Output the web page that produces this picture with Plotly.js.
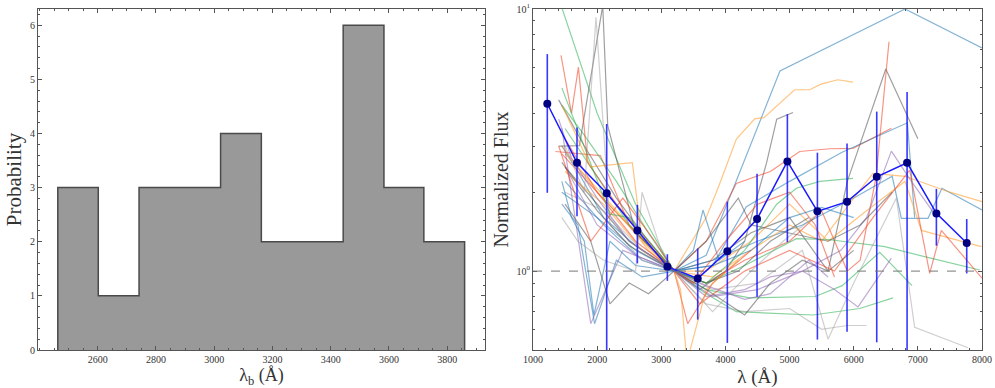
<!DOCTYPE html>
<html>
<head>
<meta charset="utf-8">
<script src="https://cdn.plot.ly/plotly-3.0.1.min.js"></script>
<style>html,body{margin:0;padding:0;background:#fff;}#chart{width:995px;height:388px;}</style>
</head>
<body>
<div id="chart"></div>
<script>
// ---------- Left panel: histogram of break wavelengths ----------
const binEdges = [2463, 2602, 2742, 2882, 3022, 3162, 3302, 3443, 3583, 3720, 3860];
const binCounts = [3, 1, 3, 3, 4, 2, 2, 6, 3, 2];
const histTicks = [2600, 2800, 3000, 3200, 3400, 3600, 3800];

// ---------- Right panel: individual normalized SEDs ----------
const w01 = [1450, 1700, 2100, 2600, 3200, 3700, 4150, 4850, 6800, 8000];
const f01 = [3.0, 2.4, 1.6, 1.25, 1.0, 1.15, 2.15, 5.8, 10.0, 7.1];
const w02 = [1500, 1900, 2400, 2800, 3200, 3700, 3909, 4171, 4456, 4600, 5079, 5313, 5500, 5750, 5989];
const f02 = [2.8, 2.2, 1.6, 1.2, 1.0, 1.6, 2.15, 3.19, 3.81, 3.85, 4.92, 4.92, 5.18, 5.37, 5.26];
const w03 = [1500, 2000, 2500, 3200, 3800, 4400, 5000, 5600, 5900, 6500, 7000];
const f03 = [2.5, 1.8, 1.3, 1.0, 1.1, 1.4, 1.6, 1.0, 2.2, 5.9, 3.2];
const w04 = [1500, 2000, 2600, 3200, 3700, 4300, 5000, 5500, 5900, 6100, 6350, 6550];
const f04 = [3.2, 2.0, 1.4, 1.0, 0.9, 1.1, 1.3, 1.7, 1.0, 1.1, 2.3, 7.5];
const w05 = [1400, 1800, 2300, 2800, 3200, 3600, 4000, 4300, 4640, 4800, 5054];
const f05 = [4.5, 3.0, 1.9, 1.3, 1.0, 0.85, 1.0, 1.3, 2.58, 3.8, 4.03];
const w06 = [1350, 2050, 2500, 3200, 3700, 4170, 4700, 5158, 5625, 5989, 6587];
const f06 = [2.86, 2.76, 1.5, 1.0, 1.3, 2.16, 2.4, 2.86, 2.93, 2.94, 3.51];
const w07 = [1450, 2000, 2600, 3200, 3800, 4326, 5000, 5819, 6837, 6950];
const f07 = [2.0, 1.6, 1.2, 1.0, 1.05, 1.76, 2.2, 2.84, 3.68, 1.6];
const w08 = [1500, 2100, 2700, 3200, 3800, 4500, 5200, 6000, 6600, 6743, 7158, 7376, 8000];
const f08 = [2.2, 1.5, 1.1, 1.0, 1.1, 1.3, 1.5, 1.9, 2.3, 1.59, 1.59, 2.07, 1.71];
const w09 = [1450, 2000, 2600, 3200, 3800, 4400, 5000, 5500, 6000, 6300, 6800, 7500, 8000];
const f09 = [3.0, 2.0, 1.4, 1.0, 0.95, 1.2, 1.5, 1.3, 1.9, 2.36, 2.3, 2.0, 1.84];
const w10 = [1500, 2100, 2700, 3200, 3700, 4400, 5000, 5600, 6200, 6800, 7055, 7990];
const f10 = [2.4, 1.8, 1.2, 1.0, 1.0, 1.3, 1.8, 1.3, 1.7, 2.2, 1.43, 1.24];
const w11 = [1450, 1800, 2300, 2800, 3200, 3700, 4170, 5366, 6093, 6613];
const f11 = [4.3, 3.3, 2.2, 1.4, 1.0, 0.82, 0.70, 0.68, 0.72, 0.79];
const w12 = [1400, 2000, 2600, 3200, 3700, 4378, 5400, 5821, 6405, 6909];
const f12 = [11.0, 4.0, 1.8, 1.0, 0.85, 0.79, 0.80, 0.88, 1.18, 0.88];
const w13 = [1500, 2000, 2500, 3200, 3700, 4300, 5106, 5600, 6483, 7200, 7964];
const f13 = [3.5, 2.3, 1.5, 1.0, 0.9, 1.05, 1.33, 1.32, 1.24, 1.12, 1.01];
const w14 = [1500, 2100, 2700, 3200, 3800, 4500, 5200, 5600, 6000, 6665, 6950, 7782];
const f14 = [2.0, 1.7, 1.2, 1.0, 0.85, 0.9, 1.2, 0.55, 0.9, 1.9, 0.61, 0.51];
const w15 = [1450, 2000, 2600, 3200, 3600, 4300, 5000, 5700, 6300, 6873, 7184, 7366, 8000];
const f15 = [2.8, 2.0, 1.3, 1.0, 0.75, 1.0, 1.2, 1.0, 1.6, 2.43, 0.98, 1.43, 0.94];
const w16 = [1450, 1900, 2400, 3200, 3800, 4500, 5200, 5800, 6200, 6587, 6900, 7300];
const f16 = [3.5, 0.63, 1.2, 1.0, 0.8, 0.85, 1.0, 1.2, 1.6, 2.87, 2.2, 1.6];
const w17 = [1500, 2000, 2600, 3200, 3700, 4300, 4700, 5200, 5700, 6067, 6587];
const f17 = [2.5, 1.5, 1.15, 1.0, 0.8, 0.85, 0.95, 1.0, 0.85, 0.73, 1.12];
const w18 = [1400, 1723, 2087, 2165, 2600, 3200, 3700, 4200, 4700, 5300];
const f18 = [3.0, 3.01, 10.3, 3.59, 1.4, 1.0, 0.9, 1.0, 1.3, 1.6];
const w19 = [1500, 1800, 1982, 2200, 2700, 3200, 3700, 4300, 5000, 5500, 5900, 6200];
const f19 = [3.0, 2.0, 9.3, 1.5, 1.1, 1.0, 0.75, 0.7, 0.72, 0.6, 0.62, 0.62];
const w20 = [1437, 1600, 1708, 1850, 2300, 2800, 3200, 3412, 3800, 4400];
const f20 = [6.65, 4.0, 6.0, 2.6, 1.8, 1.3, 1.0, 0.63, 0.9, 1.2];
const w21 = [1450, 1900, 2549, 2700, 3000, 3200, 3300, 3400, 3700, 4200];
const f21 = [4.3, 2.5, 2.59, 1.3, 1.1, 1.0, 0.85, 0.45, 0.85, 1.1];
const w22 = [1450, 1600, 1800, 1950, 2200, 2600, 3200, 3500, 3650, 3900, 4300];
const f22 = [2.2, 1.6, 1.3, 0.68, 1.3, 1.05, 1.0, 1.2, 1.71, 1.1, 1.3];
const w23 = [1500, 1900, 2200, 2500, 2800, 3200, 3700, 4300, 4700, 5200, 5600, 6000];
const f23 = [1.8, 1.3, 0.75, 0.9, 0.82, 1.0, 0.85, 0.68, 0.9, 1.1, 1.0, 1.2];
const w24 = [1450, 2000, 2500, 3200, 3700, 4200, 4400, 5000, 5600, 6100, 6600];
const f24 = [2.6, 1.7, 1.25, 1.0, 1.3, 1.9, 1.5, 1.4, 1.3, 1.5, 2.0];
const w25 = [1450, 1700, 2100, 2600, 2700, 3000, 3200, 3800, 4400, 4900, 5500];
const f25 = [1.6, 1.3, 1.1, 1.0, 2.0, 1.2, 1.0, 0.7, 1.0, 1.3, 1.7];
const w26 = [1450, 2000, 2200, 2500, 3200, 3700, 4300, 4800, 5106, 5470, 5989];
const f26 = [5.0, 2.2, 1.65, 1.6, 1.0, 0.9, 1.2, 1.8, 2.07, 2.2, 2.26];
const w27 = [1400, 1900, 2400, 2900, 3200, 3500, 4000, 4500, 5000, 5400, 5700];
const f27 = [3.0, 1.3, 1.9, 1.3, 1.0, 0.9, 1.3, 1.8, 2.0, 1.5, 0.95];
const w28 = [1400, 1600, 2000, 2500, 3200, 3700, 4300, 4700, 5300, 5600];
const f28 = [3.8, 2.7, 1.9, 1.3, 1.0, 0.88, 0.78, 0.82, 1.1, 0.95];
const w29 = [1450, 1700, 1960, 2300, 2700, 3200, 3800, 4400, 5000, 5500, 6000];
const f29 = [1.8, 1.5, 0.63, 1.1, 0.95, 1.0, 1.05, 1.2, 1.6, 1.75, 1.6];

const sedWaves = [w01,w02,w03,w04,w05,w06,w07,w08,w09,w10,w11,w12,w13,w14,w15,w16,w17,w18,w19,w20,w21,w22,w23,w24,w25,w26,w27,w28,w29];
const sedFluxes = [f01,f02,f03,f04,f05,f06,f07,f08,f09,f10,f11,f12,f13,f14,f15,f16,f17,f18,f19,f20,f21,f22,f23,f24,f25,f26,f27,f28,f29];
const sedColorNames = ['blue','orange','gray','red','gray','red','blue','blue','orange','orange','green','green','green','lightgray','red','purple','purple','gray','lightgray','red','orange','blue','gray','gray','lightgray','green','red','purple','blue'];

// ---------- Right panel: mean SED with scatter ----------
const meanWave = [1223, 1686, 2149, 2627, 3095, 3568, 4030, 4493, 4966, 5434, 5896, 6359, 6832, 7289, 7762];
const meanFlux = [4.35, 2.59, 1.98, 1.43, 1.04, 0.937, 1.19, 1.58, 2.62, 1.69, 1.84, 2.29, 2.59, 1.66, 1.28];
const meanHigh = [6.73, 3.53, 3.64, 1.79, 1.16, 1.22, 1.84, 2.35, 3.97, 2.83, 3.07, 4.06, 4.82, 2.06, 1.58];
const meanLow  = [1.99, 1.62, 0.30, 1.07, 0.918, 0.653, 0.532, 0.798, 1.29, 0.548, 0.587, 0.535, 0.30, 1.25, 0.98];
const refLevel = 1;

const palette = {
  blue: 'rgba(31,119,180,0.55)',
  orange: 'rgba(255,150,30,0.55)',
  green: 'rgba(40,175,80,0.55)',
  red: 'rgba(240,60,30,0.55)',
  purple: 'rgba(140,100,180,0.55)',
  gray: 'rgba(80,80,80,0.55)',
  lightgray: 'rgba(160,160,160,0.5)'
};

const serif = 'Liberation Serif';
const traces = [];

// histogram as a filled step outline
const hx = [binEdges[0]];
const hy = [0];
for (let i = 0; i < binCounts.length; i++) { hx.push(binEdges[i]); hy.push(binCounts[i]); }
hx.push(binEdges[binEdges.length - 1]); hy.push(binCounts[binCounts.length - 1]);
hx.push(binEdges[binEdges.length - 1]); hy.push(0);
traces.push({
  type: 'scatter', mode: 'lines', x: hx, y: hy, xaxis: 'x', yaxis: 'y',
  line: {shape: 'hv', color: '#4a4a4a', width: 1.5},
  fill: 'tozeroy', fillcolor: '#999999', hoverinfo: 'skip', showlegend: false
});

for (let i = 0; i < sedWaves.length; i++) {
  traces.push({
    type: 'scatter', mode: 'lines', x: sedWaves[i], y: sedFluxes[i], xaxis: 'x2', yaxis: 'y2',
    line: {color: palette[sedColorNames[i]], width: 1.2}, showlegend: false, hoverinfo: 'skip'
  });
}

traces.push({
  type: 'scatter', mode: 'lines+markers', x: meanWave, y: meanFlux, xaxis: 'x2', yaxis: 'y2',
  line: {color: '#1a1aff', width: 1.5},
  marker: {color: '#000080', size: 8},
  error_y: {
    type: 'data', symmetric: false,
    array: meanHigh.map((h, i) => h - meanFlux[i]),
    arrayminus: meanLow.map((l, i) => meanFlux[i] - l),
    color: 'rgba(20,20,255,0.85)', thickness: 1.6, width: 0
  },
  showlegend: false
});

const frame = {
  showline: true, linecolor: '#555', linewidth: 1, mirror: 'allticks',
  ticks: 'inside', ticklen: 4, tickcolor: '#555', tickwidth: 1,
  showgrid: false, zeroline: false,
  tickfont: {family: serif, size: 10, color: '#333'}
};

const layout = {
  width: 995, height: 388,
  margin: {l: 0, r: 0, t: 9, b: 38},
  paper_bgcolor: '#fff', plot_bgcolor: '#fff',
  showlegend: false,
  font: {family: serif, color: '#333'},
  xaxis: Object.assign({}, frame, {
    domain: [38/995, 485/995], range: [2395, 3930], anchor: 'y',
    tickvals: histTicks,
    minor: {dtick: 50, tick0: 2400, ticks: 'inside', ticklen: 2, tickcolor: '#555', showgrid: false},
    title: {text: 'λ<sub>b</sub> (Å)', font: {family: serif, size: 18, color: '#333'}}
  }),
  yaxis: Object.assign({}, frame, {
    domain: [0, 1], range: [0, 6.3], anchor: 'x', dtick: 1, tick0: 0,
    minor: {dtick: 0.2, tick0: 0, ticks: 'inside', ticklen: 2, tickcolor: '#555', showgrid: false},
    title: {text: 'Probability', font: {family: serif, size: 21, color: '#333'}, standoff: 2}
  }),
  xaxis2: Object.assign({}, frame, {
    domain: [533/995, 982/995], range: [1000, 8000], anchor: 'y2', dtick: 1000, tick0: 1000,
    minor: {dtick: 200, tick0: 1000, ticks: 'inside', ticklen: 2, tickcolor: '#555', showgrid: false},
    title: {text: 'λ (Å)', font: {family: serif, size: 19, color: '#333'}}
  }),
  yaxis2: Object.assign({}, frame, {
    domain: [0, 1], type: 'log', range: [Math.log10(0.5), 1], anchor: 'x2',
    tickvals: [1, 10], ticktext: ['10<sup>0</sup>', '10<sup>1</sup>'],
    minor: {tickvals: [0.5, 0.6, 0.7, 0.8, 0.9, 2, 3, 4, 5, 6, 7, 8, 9], ticks: 'inside', ticklen: 2, tickcolor: '#555', showgrid: false},
    title: {text: 'Normalized Flux', font: {family: serif, size: 20, color: '#333'}, standoff: 2}
  }),
  shapes: [{
    type: 'line', xref: 'x2 domain', yref: 'y2', x0: 0, x1: 1, y0: refLevel, y1: refLevel,
    line: {color: '#777', width: 1, dash: 'dash'}, layer: 'above'
  }]
};

Plotly.newPlot('chart', traces, layout, {displayModeBar: false, staticPlot: true});
</script>
</body>
</html>
